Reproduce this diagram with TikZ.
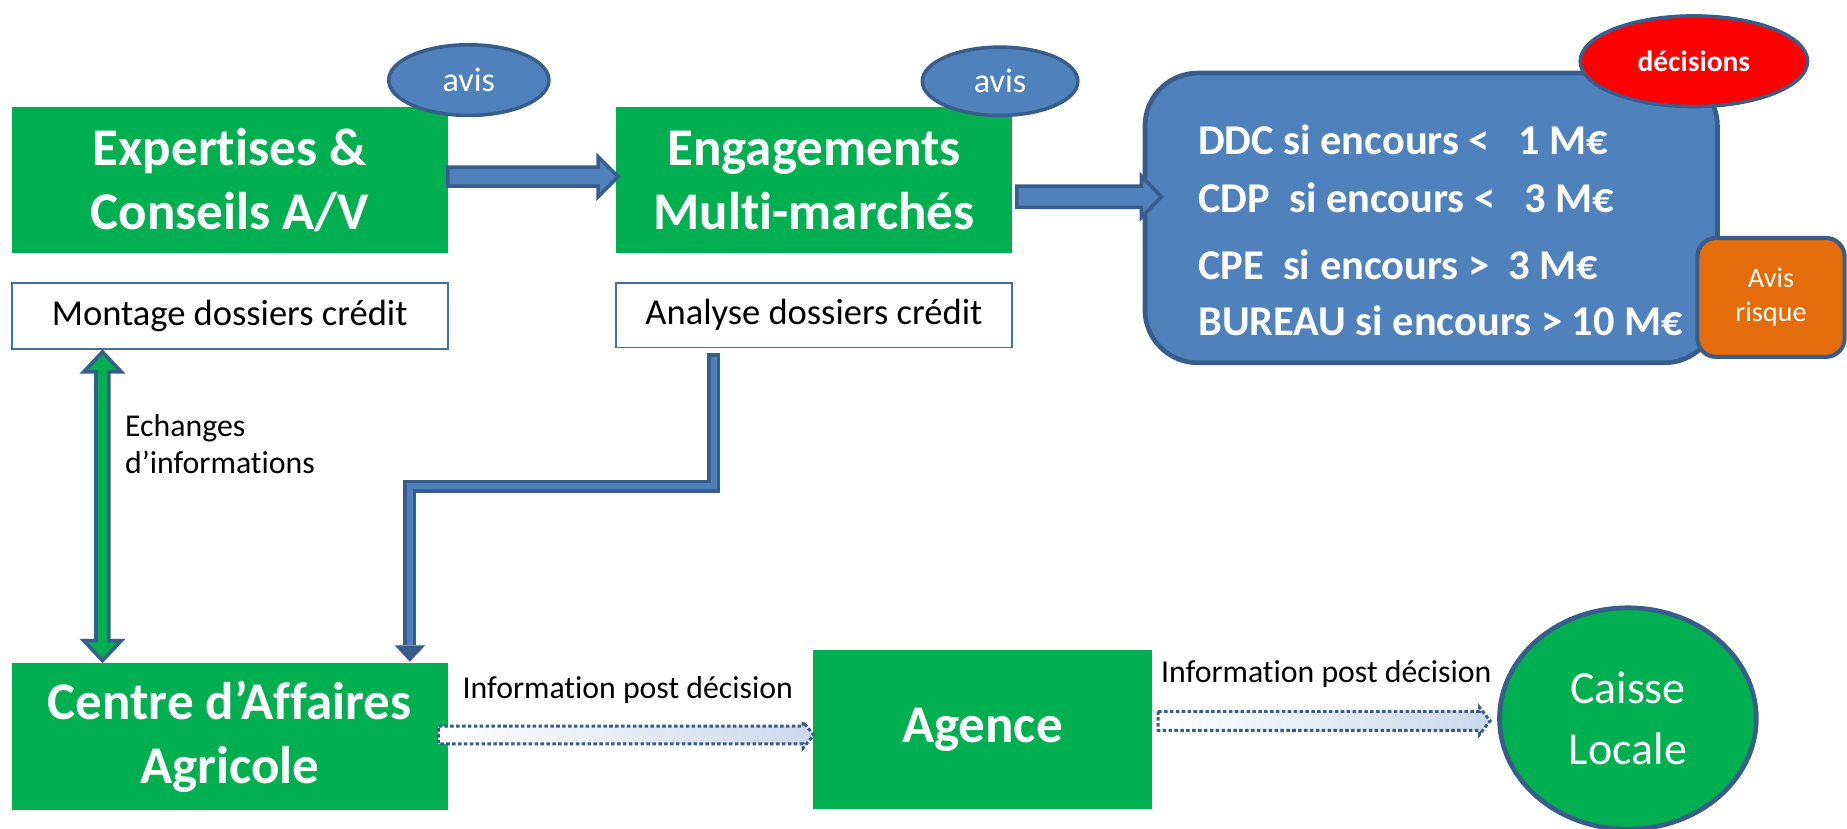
\documentclass[tikz,border=0pt]{standalone}
\usepackage{fontspec}
\setmainfont{Carlito}[Ligatures=NoCommon]
\usetikzlibrary{shapes.geometric,calc,arrows.meta}
\definecolor{cagreen}{HTML}{00B050}
\definecolor{cablue}{HTML}{4F81BD}
\definecolor{cadark}{HTML}{385D8A}
\definecolor{caorange}{HTML}{E46C0A}
\definecolor{cared}{HTML}{FF0000}
\definecolor{caframe}{HTML}{41719C}
\newcommand\caBlockArrow[6]{%
  \draw[#1] let \p1=(#2), \p2=(#3) in
   (\x1,\y1+#4) -- (\x2-#6,\y1+#4) -- (\x2-#6,\y1+#5) -- (\x2,\y1)
   -- (\x2-#6,\y1-#5) -- (\x2-#6,\y1-#4) -- (\x1,\y1-#4) -- cycle;}
\begin{document}
\begin{tikzpicture}[x=1pt,y=-1pt,
  bigbox/.style={fill=cagreen, text=white, align=center, inner sep=0pt,
     font=\bfseries\fontsize{45}{54}\selectfont},
  smallbox/.style={draw=caframe, line width=1.5pt, fill=white, inner sep=0pt,
     font=\fontsize{31}{37}\selectfont},
  avisell/.style={ellipse, fill=cablue, draw=cadark, line width=3pt, text=white,
     inner sep=0pt, font=\fontsize{29}{35}\selectfont},
  declines/.style={anchor=west, text=white, inner sep=0pt,
     font=\bfseries\fontsize{36}{43}\selectfont},
  infolabel/.style={inner sep=0pt, font=\fontsize{27}{32}\selectfont},
  solidarrow/.style={fill=cablue, draw=cadark, line width=3pt, line join=miter},
  dotarrow/.style={draw=cadark, line width=2.5pt, dash pattern=on 3pt off 2pt,
     left color=white, middle color=cablue!55, right color=cablue!30},
]
\fill[white] (0,0) rectangle (1568,703);
\useasboundingbox (0,0) rectangle (1568,703);

% boxes
\node[bigbox, minimum width=370pt, minimum height=124pt] (exp) at (195,153) {Expertises \&\\Conseils A/V};
\node[bigbox, minimum width=336pt, minimum height=124pt] (eng) at (691,153) {Engagements\\Multi-marchés};
\node[smallbox, minimum width=370pt, minimum height=56pt] (montage) at (195,268) {Montage dossiers crédit};
\node[smallbox, minimum width=336pt, minimum height=55pt] (analyse) at (691,267.5) {Analyse dossiers crédit};
\node[bigbox, minimum width=370pt, minimum height=125pt] (centre) at (195,625.5) {Centre d’Affaires\\Agricole};
\node[bigbox, minimum width=288pt, minimum height=135pt] (agence) at (834,619.5) {Agence};
\node[ellipse, fill=cagreen, draw=cadark, line width=4pt, minimum width=218pt, minimum height=188pt,
      inner sep=0pt, text=white, align=center, font=\fontsize{39}{52}\selectfont] (caisse) at (1382,610) {Caisse\\Locale};

% decision box
\node[draw=cadark, fill=cablue, line width=4pt, rounded corners=45pt, minimum width=486pt,
      minimum height=246pt] (dec) at (1215,185) {};
\node[declines] (d1) at (1017,119) {DDC si encours <\ \ \ 1 M€};
\node[declines] (d2) at (1017,168) {CDP\ \ si encours <\ \ \ 3 M€};
\node[declines] (d3) at (1017,225) {CPE\ \ si encours >\ \ 3 M€};
\node[declines] (d4) at (1017,272) {BUREAU si encours > 10 M€};
\node[ellipse, fill=cared, draw=cadark, line width=3pt, minimum width=193pt, minimum height=77pt,
      inner sep=0pt, text=white, font=\bfseries\fontsize{25}{30}\selectfont] (decis) at (1438,52) {décisions};
\node[fill=caorange, draw=cadark, line width=3.5pt, rounded corners=16pt, minimum width=125pt,
      minimum height=101pt, inner sep=0pt, text=white, align=center,
      font=\fontsize{24}{29}\selectfont] (risque) at (1503.5,252.5) {Avis\\risque};

% avis ellipses
\node[avisell, minimum width=136pt, minimum height=60pt] (avis1) at (398,68) {avis};
\node[avisell, minimum width=132pt, minimum height=58pt] (avis2) at (849,69) {avis};

% labels
\node[infolabel, anchor=west, align=left] (ech) at (106,377) {Echanges\\d’informations};
\node[infolabel] (info1) at (533,586) {Information post décision};
\node[infolabel] (info2) at (1126,572) {Information post décision};

% block arrows
\caBlockArrow{solidarrow}{$(exp.east)+(0,-3)$}{$(eng.west)+(2,-3)$}{8pt}{17pt}{17pt}
\caBlockArrow{solidarrow}{$(eng.east)+(4,14)$}{$(dec.west)+(16,0)$}{9pt}{17.5pt}{17pt}
\caBlockArrow{dotarrow}{$(centre.east)+(-8,-1.5)$}{$(agence.west)+(1,0)$}{7.5pt}{11pt}{9pt}
\caBlockArrow{dotarrow}{$(agence.east)+(5,-7.5)$}{$(caisse.west)+(-6,0)$}{8pt}{11.5pt}{9pt}

% elbow connector analyse -> centre
\draw[cadark, line width=11pt, line join=miter, -{Triangle[width=26pt,length=14pt,line width=0pt]}]
  ($(analyse.south)+(-85,4)$) |- ($(centre.north)+(153,-150)$) -- ($(centre.north)+(153,-1)$);
\draw[cablue, line width=5pt, line join=miter, shorten >=14pt, shorten <=3pt]
  ($(analyse.south)+(-85,4)$) |- ($(centre.north)+(153,-150)$) -- ($(centre.north)+(153,-1)$);

% double arrow montage <-> centre
\draw[fill=cagreen, draw=cadark, line width=3pt, line join=miter]
  let \p1=($(montage.south)+(-108,2)$), \p2=($(centre.north)+(-108,-2)$) in
  (\x1,\y1) -- (\x1+16pt,\y1-17pt) -- (\x1+5.5pt,\y1-17pt) -- (\x1+5.5pt,\y2+17pt)
  -- (\x1+16pt,\y2+17pt) -- (\x1,\y2) -- (\x1-16pt,\y2+17pt) -- (\x1-5.5pt,\y2+17pt)
  -- (\x1-5.5pt,\y1-17pt) -- (\x1-16pt,\y1-17pt) -- cycle;
\end{tikzpicture}
\end{document}
